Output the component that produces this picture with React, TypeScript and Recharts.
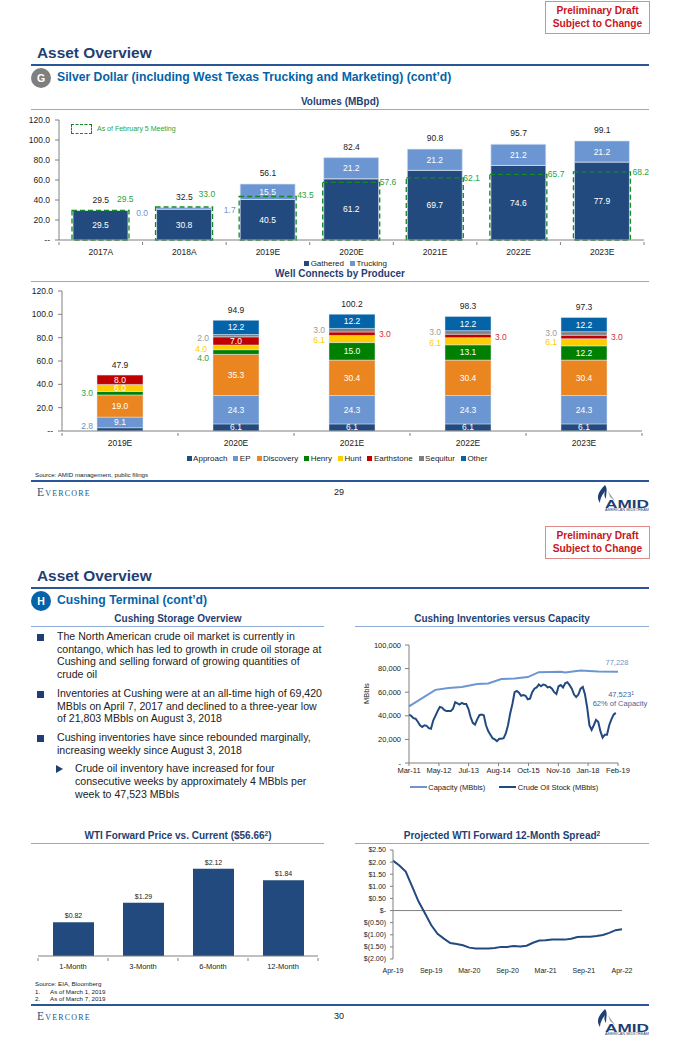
import React from "react";
import {
  Bar,
  BarChart,
  ComposedChart,
  LabelList,
  Legend,
  Line,
  LineChart,
  ReferenceLine,
  XAxis,
  YAxis,
} from "recharts";

const FONT = '"Liberation Sans", Arial, sans-serif';
const NAVY = "#234A7E";
const LIGHT = "#6B96D2";
const TITLE = "#1F3F73";
const GREEN = "#2BA33A";
const GRID = "#808080";
const INK = "#222222";

// Volumes (MBpd)
const volumeYears = ["2017A", "2018A", "2019E", "2020E", "2021E", "2022E", "2023E"];
const gathered = [29.5, 30.8, 40.5, 61.2, 69.7, 74.6, 77.9];
const trucking = [0.0, 1.7, 15.5, 21.2, 21.2, 21.2, 21.2];
const volumeTotals = [29.5, 32.5, 56.1, 82.4, 90.8, 95.7, 99.1];
const meeting = [29.5, 33.0, 43.5, 57.6, 62.1, 65.7, 68.2];
const volumeTicks = [0, 20, 40, 60, 80, 100, 120];

// Well connects by producer
const connectYears = ["2019E", "2020E", "2021E", "2022E", "2023E"];
const approach = [2.8, 6.1, 6.1, 6.1, 6.1];
const ep = [9.1, 24.3, 24.3, 24.3, 24.3];
const discovery = [19.0, 35.3, 30.4, 30.4, 30.4];
const henry = [3.0, 4.0, 15.0, 13.1, 12.2];
const hunt = [6.0, 4.0, 6.1, 6.1, 6.1];
const earthstone = [8.0, 7.0, 3.0, 3.0, 3.0];
const sequitur = [0, 2.0, 3.0, 3.0, 3.0];
const other = [0, 12.2, 12.2, 12.2, 12.2];
const connectTotals = [47.9, 94.9, 100.2, 98.3, 97.3];

// Cushing inventories, one reading per month from Mar-11
const crudeStock = [
  41000, 40000, 38000, 37500, 35000, 32000, 30500, 32000, 31500, 29500, 29000, 36000,
  40000, 44000, 47500, 47000, 45000, 44000, 44000, 44000, 46000, 51500, 50500, 49500,
  51000, 50000, 50000, 46000, 39000, 34000, 32500, 37000, 40500, 41000, 40500, 32000,
  27000, 24000, 21000, 20000, 18500, 20500, 20500, 21000, 25000, 32000, 42000, 50000,
  60000, 61000, 59500, 57000, 57500, 57000, 54000, 54500, 60000, 63000, 64000, 66500,
  65000, 66500, 66000, 64000, 64500, 63000, 60000, 58500, 65000, 66000, 64000, 67500,
  68500, 66000, 63000, 58000, 56000, 58000, 63000, 64500, 58000, 47000, 32000, 28000,
  32000, 36500, 35000, 27000, 21500, 24000, 24000, 32000, 37000, 41000, 42500, null,
];
const capacity = [
  48000, null, null, null, null, null, null, null, null, null, null, null,
  62000, null, null, null, null, null, 63500, null, null, null, null, null,
  64500, null, null, null, null, null, null, 66900, null, null, null, null,
  67400, null, null, null, null, null, 71100, null, null, null, null, null,
  71700, null, null, null, null, null, 72800, null, null, null, null, 77000,
  null, null, null, null, null, null, null, null, null, 77300, null, 76800,
  null, null, null, null, null, null, 78400, null, null, null, null, null,
  null, null, 77600, null, null, null, null, null, null, null, null, 77228,
];
const cushingTickAt = [0, 13.6, 27.1, 40.7, 54.3, 67.9, 81.4, 95];
const cushingTickLabels = ["Mar-11", "May-12", "Jul-13", "Aug-14", "Oct-15", "Nov-16", "Jan-18", "Feb-19"];
const cushingYTicks = [0, 20000, 40000, 60000, 80000, 100000];

// WTI forward price vs current
const forwardTerms = ["1-Month", "3-Month", "6-Month", "12-Month"];
const forwardDelta = [0.82, 1.29, 2.12, 1.84];

// Projected 12-month spread
const spread = [
  2.06, 1.86, 1.61, 1.0, 0.38, -0.1, -0.6, -0.96, -1.16, -1.34, -1.38, -1.43,
  -1.53, -1.57, -1.57, -1.57, -1.55, -1.5, -1.5, -1.46, -1.48, -1.45, -1.33, -1.24,
  -1.23, -1.2, -1.19, -1.2, -1.16, -1.09, -1.08, -1.08, -1.05, -1.01, -0.92, -0.81, -0.77,
];
const spreadTickAt = [0, 6, 12, 18, 24, 30, 36];
const spreadTickLabels = ["Apr-19", "Sep-19", "Mar-20", "Sep-20", "Mar-21", "Sep-21", "Apr-22"];
const spreadYTicks = [-2, -1.5, -1, -0.5, 0, 0.5, 1, 1.5, 2, 2.5];

const volumeRows = volumeYears.map((year, i) => ({
  year,
  Gathered: gathered[i],
  Trucking: trucking[i],
  total: volumeTotals[i],
  meeting: meeting[i],
}));

const connectRows = connectYears.map((year, i) => ({
  year,
  Approach: approach[i],
  EP: ep[i],
  Discovery: discovery[i],
  Henry: henry[i],
  Hunt: hunt[i],
  Earthstone: earthstone[i],
  Sequitur: sequitur[i],
  Other: other[i],
  total: connectTotals[i],
}));

const cushingRows = crudeStock.map((stock, i) => ({ x: i, stock, capacity: capacity[i] }));
const forwardRows = forwardTerms.map((term, i) => ({ term, delta: forwardDelta[i] }));
const spreadRows = spread.map((value, i) => ({ x: i, value }));

const producers = [
  { key: "Approach", color: NAVY },
  { key: "EP", color: LIGHT },
  { key: "Discovery", color: "#EA8520" },
  { key: "Henry", color: "#008000" },
  { key: "Hunt", color: "#FFCC00" },
  { key: "Earthstone", color: "#C00000" },
  { key: "Sequitur", color: "#808080" },
  { key: "Other", color: "#0563A8" },
];

// labels that sit beside the stack instead of inside it, series:year
const sideLabels: Record<string, { side: string; dy: number; color: string; gap?: number }> = {
  "Approach:2019E": { side: "left", dy: -3, color: "#6B8FC5" },
  "Henry:2019E": { side: "left", dy: 0, color: GREEN },
  "Sequitur:2020E": { side: "left", dy: 2, color: "#9A9A9A" },
  "Hunt:2020E": { side: "left", dy: 2, color: "#FFCC00", gap: 6 },
  "Henry:2020E": { side: "left", dy: 6, color: GREEN },
  "Sequitur:2021E": { side: "left", dy: 0, color: "#9A9A9A" },
  "Hunt:2021E": { side: "left", dy: 1, color: "#FFCC00" },
  "Earthstone:2021E": { side: "right", dy: 0, color: "#D0303A" },
  "Sequitur:2022E": { side: "left", dy: 0, color: "#9A9A9A" },
  "Hunt:2022E": { side: "left", dy: 2, color: "#FFCC00" },
  "Earthstone:2022E": { side: "right", dy: 1, color: "#D0303A" },
  "Sequitur:2023E": { side: "left", dy: 0, color: "#9A9A9A" },
  "Hunt:2023E": { side: "left", dy: 0, color: "#FFCC00" },
  "Earthstone:2023E": { side: "right", dy: 0, color: "#D0303A" },
};

const meetingShift = [
  [-12, -12],
  [-14, -13],
  [1, -2],
  [0, 0],
  [0, 0],
  [1, 0],
  [2, 0],
];

const fmt1 = (v: number) => v.toFixed(1);

const CONNECT_LEFT = 62;
const CONNECT_BAND = 116;

function producerLabel(series: string) {
  return (p: any) => {
    const value = Number(p.value);
    if (!value) return null;
    // zero segments are skipped by the bar, so p.index can't be trusted here
    const year = connectYears[Math.floor((p.x - CONNECT_LEFT) / CONNECT_BAND)];
    const beside = sideLabels[`${series}:${year}`];
    const cy = p.y + p.height / 2;
    if (beside) {
      const gap = beside.gap ?? 4;
      const left = beside.side === "left";
      return (
        <text
          x={left ? p.x - gap : p.x + p.width + gap}
          y={cy + beside.dy}
          textAnchor={left ? "end" : "start"}
          dominantBaseline="central"
          fontSize={8.5}
          fill={beside.color}
        >
          {fmt1(value)}
        </text>
      );
    }
    return (
      <text x={p.x + p.width / 2} y={cy} textAnchor="middle" dominantBaseline="central" fontSize={8.5} fill="#fff">
        {fmt1(value)}
      </text>
    );
  };
}

function centerLabel(p: any) {
  return (
    <text x={p.x + p.width / 2} y={p.y + p.height / 2} textAnchor="middle" dominantBaseline="central" fontSize={8.5} fill="#fff">
      {fmt1(Number(p.value))}
    </text>
  );
}

function truckingInside(p: any) {
  return Number(p.value) < 5 ? null : centerLabel(p);
}

// the two thin trucking values hang off the total point, next to the stack
function truckingBeside(p: any) {
  if (p.index > 1) return null;
  return (
    <text x={p.x + 27.5 + (p.index === 0 ? 8 : 12)} y={p.y + 2} dominantBaseline="central" fontSize={8.5} fill={LIGHT}>
      {fmt1(trucking[p.index])}
    </text>
  );
}

function meetingLabel(p: any) {
  const [dx, dy] = meetingShift[p.index];
  return (
    <text x={p.x + p.width + dx} y={p.y + dy} dominantBaseline="central" fontSize={8.5} fill={GREEN}>
      {fmt1(Number(p.value))}
    </text>
  );
}

// category label plus tick marks on the band edges, the way the slide has them
function edgeTick(bandWidth: number, size: number, labelDy: number) {
  return (p: any) => {
    const left = p.x - bandWidth / 2;
    return (
      <g>
        {p.index === 0 && <line x1={left} x2={left} y1={p.y - labelDy} y2={p.y - labelDy + 3} stroke={GRID} />}
        <line x1={p.x + bandWidth / 2} x2={p.x + bandWidth / 2} y1={p.y - labelDy} y2={p.y - labelDy + 3} stroke={GRID} />
        <text x={p.x} y={p.y} textAnchor="middle" dominantBaseline="central" fontSize={size} fill={INK}>
          {p.payload.value}
        </text>
      </g>
    );
  };
}

function SwatchLegend(props: any) {
  const items = (props.payload || []).filter((e: any) => e.type !== "none");
  return (
    <div style={{ display: "flex", justifyContent: "center", alignItems: "center", height: 14, fontFamily: FONT, fontSize: 8, color: INK }}>
      {items.map((e: any) => (
        <span key={e.value} style={{ display: "flex", alignItems: "center", marginRight: 6 }}>
          <span style={{ width: 5, height: 5, background: e.color, marginRight: 1.5 }} />
          {e.value}
        </span>
      ))}
    </div>
  );
}

function LineLegend(props: any) {
  const items = (props.payload || []).filter((e: any) => e.type !== "none");
  return (
    <div style={{ display: "flex", justifyContent: "center", alignItems: "center", height: 14, fontFamily: FONT, fontSize: 7.5, color: INK }}>
      {items.map((e: any) => (
        <span key={e.value} style={{ display: "flex", alignItems: "center", margin: "0 7px" }}>
          <span style={{ width: 17, height: 2, background: e.color, marginRight: 1.5 }} />
          {e.value}
        </span>
      ))}
    </div>
  );
}

function Txt(props: { x: number; y: number; size: number; color?: string; bold?: boolean; align?: string; children: any; style?: any }) {
  const { x, y, size, color = INK, bold, align = "left", children, style } = props;
  const shift = align === "center" ? "-50%" : align === "right" ? "-100%" : "0";
  return (
    <div
      style={{
        position: "absolute",
        left: x,
        top: y,
        transform: `translate(${shift}, -50%)`,
        fontSize: size,
        lineHeight: 1.1,
        color,
        fontWeight: bold ? 700 : 400,
        whiteSpace: "nowrap",
        ...style,
      }}
    >
      {children}
    </div>
  );
}

function Rule({ x, y, w, color, h }: { x: number; y: number; w: number; color: string; h: number }) {
  return <div style={{ position: "absolute", left: x, top: y, width: w, height: h, background: color }} />;
}

function DraftStamp({ y }: { y: number }) {
  return (
    <div
      style={{
        position: "absolute",
        left: 545,
        top: y,
        width: 103,
        height: 28,
        border: "1px solid #E08A8A",
        color: "#C8141E",
        fontSize: 10.2,
        fontWeight: 700,
        lineHeight: "12.5px",
        textAlign: "center",
        paddingTop: 3,
        boxSizing: "content-box",
      }}
    >
      Preliminary Draft
      <br />
      Subject to Change
    </div>
  );
}

function Footer({ y, page }: { y: number; page: string }) {
  return (
    <>
      <Rule x={31} y={y - 1} w={618} h={2} color="#2A5596" />
      <Txt x={37} y={y + 11} size={11.5} color="#2F4F80" style={{ fontFamily: '"Liberation Serif", serif', fontVariant: "small-caps", letterSpacing: 1.2 }}>
        Evercore
      </Txt>
      <Txt x={339} y={y + 12} size={9} align="center">
        {page}
      </Txt>
      <svg style={{ position: "absolute", left: 596, top: y + 3, width: 56, height: 28 }} viewBox="0 0 56 28">
        <path d="M9 1 C2 8 0 13 4 19 C4 14 7 10 9 7 C8 10 8 12 10 15 C10 9 12 5 9 1 Z" fill="#1F3F73" />
        <path d="M12 7 L19 17 L14 13 Z" fill="#9AA5B1" />
        <text x="9" y="23.7" fontSize="11.5" fontWeight="700" fill="#1F3F73" textLength={44} lengthAdjust="spacingAndGlyphs" fontFamily={FONT}>
          AMID
        </text>
        <text x="9" y="27" fontSize="2.6" fill="#1F3F73" textLength={44} lengthAdjust="spacingAndGlyphs" fontFamily={FONT}>
          AMERICAN MIDSTREAM
        </text>
      </svg>
    </>
  );
}

function PageHead({ y, letter, badge, heading }: { y: number; letter: string; badge: string; heading: string }) {
  return (
    <>
      <Txt x={37} y={y} size={15.4} bold color={TITLE}>
        Asset Overview
      </Txt>
      <Rule x={31} y={y + 11} w={618} h={2} color="#2A5596" />
      <div
        style={{
          position: "absolute",
          left: 31,
          top: y + 15,
          width: 20,
          height: 20,
          borderRadius: 10,
          background: badge,
          color: "#fff",
          fontWeight: 700,
          fontSize: 10.5,
          lineHeight: "20px",
          textAlign: "center",
        }}
      >
        {letter}
      </div>
      <Txt x={57} y={y + 25} size={12.2} bold color="#0563A8">
        {heading}
      </Txt>
    </>
  );
}

function SubHead({ x, y, x0, x1, children }: { x: number; y: number; x0: number; x1: number; children: any }) {
  return (
    <>
      <Txt x={x} y={y} size={10} bold color={TITLE} align="center">
        {children}
      </Txt>
      <Rule x={x0} y={y + 8} w={x1 - x0} h={1} color="#8FAAD6" />
    </>
  );
}

const Sup = ({ children }: { children: any }) => (
  <span style={{ fontSize: "0.65em", verticalAlign: "0.45em" }}>{children}</span>
);

const bodyLines = [
  { y: 637, x: 57, t: "The North American crude oil market is currently in", mark: "square" },
  { y: 650, x: 57, t: "contango, which has led to growth in crude oil storage at" },
  { y: 662, x: 57, t: "Cushing and selling forward of growing quantities of" },
  { y: 675, x: 57, t: "crude oil" },
  { y: 694, x: 57, t: "Inventories at Cushing were at an all-time high of 69,420", mark: "square" },
  { y: 707, x: 57, t: "MBbls on April 7, 2017 and declined to a three-year low" },
  { y: 719, x: 57, t: "of 21,803 MBbls on August 3, 2018" },
  { y: 738, x: 57, t: "Cushing inventories have since rebounded marginally,", mark: "square" },
  { y: 751, x: 57, t: "increasing weekly since August 3, 2018" },
  { y: 769, x: 75, t: "Crude oil inventory have increased for four", mark: "arrow" },
  { y: 782, x: 75, t: "consecutive weeks by approximately 4 MBbls per" },
  { y: 795, x: 75, t: "week to 47,523 MBbls" },
];

function BodyText() {
  return (
    <>
      {bodyLines.map((l) => (
        <React.Fragment key={l.y}>
          {l.mark === "square" && <div style={{ position: "absolute", left: 37, top: l.y - 3.5, width: 7, height: 7, background: TITLE }} />}
          {l.mark === "arrow" && (
            <svg style={{ position: "absolute", left: 56, top: l.y - 4, width: 8, height: 8 }} viewBox="0 0 8 8">
              <path d="M0 0 L7 4 L0 8 Z" fill={TITLE} />
            </svg>
          )}
          <Txt x={l.x} y={l.y} size={10.6}>
            {l.t}
          </Txt>
        </React.Fragment>
      ))}
    </>
  );
}

export default function App() {
  const band1 = 585 / 7;
  const band5 = 280 / 4;
  return (
    <div style={{ position: "absolute", left: 0, top: 0, width: 680, height: 1049, overflow: "hidden", background: "#fff", fontFamily: FONT }}>
      <DraftStamp y={1} />
      <PageHead y={53} letter="G" badge="#7F7F7F" heading="Silver Dollar (including West Texas Trucking and Marketing) (cont’d)" />
      <SubHead x={340} y={101} x0={31} x1={649}>
        Volumes (MBpd)
      </SubHead>

      <div style={{ position: "absolute", left: 0, top: 110 }}>
        <ComposedChart width={680} height={160} data={volumeRows} margin={{ top: 10, right: 36, bottom: 0, left: 0 }} style={{ fontFamily: FONT }}>
          <XAxis dataKey="year" height={16} interval={0} tickLine={false} stroke={GRID} tick={edgeTick(band1, 8.5, 10)} tickMargin={6} />
          <XAxis dataKey="year" xAxisId="meet" hide />
          <YAxis
            width={59}
            domain={[0, 120]}
            ticks={volumeTicks}
            interval={0}
            stroke={GRID}
            tickSize={4}
            tickMargin={5}
            tick={{ fontSize: 8.5, fill: INK }}
            tickFormatter={(v: number) => (v === 0 ? "--" : v.toFixed(1))}
          />
          <Bar dataKey="Gathered" stackId="vol" fill={NAVY} stroke="#DCE6F2" strokeWidth={0.7} barSize={55} isAnimationActive={false}>
            <LabelList dataKey="Gathered" content={centerLabel} />
          </Bar>
          <Bar dataKey="Trucking" stackId="vol" fill={LIGHT} stroke="#DCE6F2" strokeWidth={0.7} barSize={55} isAnimationActive={false}>
            <LabelList dataKey="Trucking" content={truckingInside} />
          </Bar>
          <Bar
            dataKey="meeting"
            xAxisId="meet"
            fill="none"
            stroke="#128A22"
            strokeWidth={1.3}
            strokeDasharray="5 3"
            barSize={57}
            legendType="none"
            isAnimationActive={false}
          >
            <LabelList dataKey="meeting" content={meetingLabel} />
          </Bar>
          <Line dataKey="total" stroke="none" dot={false} activeDot={false} legendType="none" isAnimationActive={false}>
            <LabelList dataKey="total" position="top" offset={8} fontSize={8.5} fill={INK} formatter={fmt1 as any} />
            <LabelList dataKey="total" content={truckingBeside} />
          </Line>
          <Legend height={14} itemSorter={null} content={<SwatchLegend />} wrapperStyle={{ left: 0, width: 697 }} />
        </ComposedChart>
      </div>

      <div style={{ position: "absolute", left: 71, top: 124, width: 19, height: 8, border: "1px dashed #128A22" }} />
      <Txt x={97} y={129} size={7} color={GREEN}>
        As of February 5 Meeting
      </Txt>

      <SubHead x={340} y={273} x0={31} x1={649}>
        Well Connects by Producer
      </SubHead>

      <div style={{ position: "absolute", left: 0, top: 281 }}>
        <ComposedChart width={680} height={184} data={connectRows} margin={{ top: 10, right: 38, bottom: 0, left: 0 }} style={{ fontFamily: FONT }}>
          <XAxis dataKey="year" height={20} interval={0} tickLine={false} stroke={GRID} tick={edgeTick(CONNECT_BAND, 8.5, 10)} tickMargin={6} />
          <YAxis
            width={CONNECT_LEFT}
            domain={[0, 120]}
            ticks={volumeTicks}
            interval={0}
            stroke={GRID}
            tickSize={4}
            tickMargin={5}
            tick={{ fontSize: 8.5, fill: INK }}
            tickFormatter={(v: number) => (v === 0 ? "--" : v.toFixed(1))}
          />
          {producers.map((s) => (
            <Bar key={s.key} dataKey={s.key} stackId="wells" fill={s.color} stroke="#DCE6F2" strokeWidth={0.5} barSize={46} isAnimationActive={false}>
              <LabelList dataKey={s.key} content={producerLabel(s.key)} />
            </Bar>
          ))}
          <Line dataKey="total" stroke="none" dot={false} activeDot={false} legendType="none" isAnimationActive={false}>
            <LabelList dataKey="total" position="top" offset={7} fontSize={8.5} fill={INK} formatter={fmt1 as any} />
          </Line>
          <Legend height={14} itemSorter={null} content={<SwatchLegend />} wrapperStyle={{ left: 0, width: 680 }} />
        </ComposedChart>
      </div>

      <Txt x={35} y={475} size={6.2}>
        Source: AMID management, public filings
      </Txt>
      <Footer y={481} page="29" />

      <DraftStamp y={526} />
      <PageHead y={576} letter="H" badge="#0563A8" heading="Cushing Terminal (cont’d)" />
      <SubHead x={178} y={618} x0={31} x1={324}>
        Cushing Storage Overview
      </SubHead>
      <BodyText />

      <SubHead x={502} y={618} x0={355} x1={649}>
        Cushing Inventories versus Capacity
      </SubHead>
      <div style={{ position: "absolute", left: 350, top: 635 }}>
        <LineChart width={300} height={159} data={cushingRows} margin={{ top: 10, right: 32, bottom: 0, left: 0 }} style={{ fontFamily: FONT }}>
          <XAxis
            dataKey="x"
            type="number"
            domain={[0, 95]}
            ticks={cushingTickAt}
            interval={0}
            height={17}
            stroke={GRID}
            tickSize={3}
            tickMargin={2}
            tick={{ fontSize: 7.5, fill: INK }}
            tickFormatter={(v: number) => cushingTickLabels[cushingTickAt.indexOf(v)]}
          />
          <YAxis
            width={59}
            domain={[0, 100000]}
            ticks={cushingYTicks}
            interval={0}
            stroke={GRID}
            tickSize={4}
            tickMargin={4}
            tick={{ fontSize: 7.5, fill: INK }}
            tickFormatter={(v: number) => (v === 0 ? "-" : v.toLocaleString("en-US"))}
            label={{ value: "MBbls", angle: -90, position: "insideLeft", offset: 16, fontSize: 7.5, fill: INK }}
          />
          <Line name="Capacity (MBbls)" dataKey="capacity" connectNulls stroke={LIGHT} strokeWidth={2} dot={false} activeDot={false} isAnimationActive={false} />
          <Line name="Crude Oil Stock (MBbls)" dataKey="stock" stroke={NAVY} strokeWidth={2} dot={false} activeDot={false} isAnimationActive={false} />
          <Legend height={14} itemSorter={null} content={<LineLegend />} wrapperStyle={{ left: 0, width: 308 }} />
        </LineChart>
      </div>
      <Txt x={617} y={663} size={7.5} color={LIGHT} align="center">
        77,228
      </Txt>
      <Txt x={621} y={695} size={7.5} color="#3F659E" align="center">
        47,523<Sup>1</Sup>
      </Txt>
      <Txt x={620} y={704} size={7.5} color="#3F659E" align="center">
        62% of Capacity
      </Txt>

      <SubHead x={178} y={835} x0={31} x1={324}>
        WTI Forward Price vs. Current ($56.66<Sup>2</Sup>)
      </SubHead>
      <div style={{ position: "absolute", left: 0, top: 843 }}>
        <BarChart width={340} height={130} data={forwardRows} margin={{ top: 10, right: 22, bottom: 0, left: 38 }} style={{ fontFamily: FONT }}>
          <XAxis dataKey="term" height={17} interval={0} tickLine={false} stroke={GRID} tick={edgeTick(band5, 7.5, 8)} tickMargin={4} />
          <YAxis hide domain={[0, 2.5]} />
          <Bar dataKey="delta" fill={NAVY} barSize={41} isAnimationActive={false}>
            <LabelList dataKey="delta" position="top" offset={4} fontSize={7} fill={INK} formatter={((v: number) => `$${v.toFixed(2)}`) as any} />
          </Bar>
        </BarChart>
      </div>

      <SubHead x={502} y={835} x0={355} x1={649}>
        Projected WTI Forward 12-Month Spread<Sup>2</Sup>
      </SubHead>
      <div style={{ position: "absolute", left: 350, top: 840 }}>
        <LineChart width={300} height={135} data={spreadRows} margin={{ top: 10, right: 28, bottom: 0, left: 0 }} style={{ fontFamily: FONT }}>
          <XAxis
            dataKey="x"
            type="number"
            domain={[0, 36]}
            ticks={spreadTickAt}
            interval={0}
            height={16}
            axisLine={false}
            tickLine={false}
            tickMargin={3}
            tick={{ fontSize: 7, fill: INK }}
            tickFormatter={(v: number) => spreadTickLabels[v / 6]}
          />
          <YAxis
            width={43}
            domain={[-2, 2.5]}
            ticks={spreadYTicks}
            interval={0}
            stroke={GRID}
            tickSize={3}
            tickMargin={4}
            tick={{ fontSize: 7, fill: INK }}
            tickFormatter={(v: number) => (v === 0 ? "$-" : v < 0 ? `$(${(-v).toFixed(2)})` : `$${v.toFixed(2)}`)}
          />
          <ReferenceLine y={0} stroke={GRID} />
          <Line dataKey="value" stroke={NAVY} strokeWidth={2} dot={false} activeDot={false} isAnimationActive={false} />
        </LineChart>
      </div>

      <Txt x={35} y={984} size={6.2}>
        Source: EIA, Bloomberg
      </Txt>
      <Txt x={35} y={991.5} size={6.2}>
        1.
      </Txt>
      <Txt x={50} y={991.5} size={6.2}>
        As of March 1, 2019
      </Txt>
      <Txt x={35} y={999} size={6.2}>
        2.
      </Txt>
      <Txt x={50} y={999} size={6.2}>
        As of March 7, 2019
      </Txt>
      <Footer y={1005} page="30" />
    </div>
  );
}
